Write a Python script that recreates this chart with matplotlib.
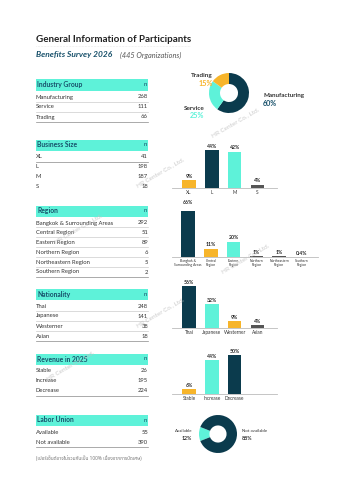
import matplotlib
matplotlib.use("Agg")
import matplotlib.pyplot as plt
from matplotlib.patches import Rectangle
from matplotlib.lines import Line2D

plt.rcParams['font.family'] = ['Lato', 'DejaVu Sans']

W, H = 339, 480
DARK = '#0b3b4d'
AQUA = '#5ef2d9'
ORANGE = '#f7b52b'
GRAY = '#555555'
TXT = '#333333'

# ---------------- data ----------------
industry_cats = ['Manufacturing', 'Service', 'Trading']
industry_n = [268, 111, 66]
industry_pct = [60, 25, 15]

size_cats = ['XL', 'L', 'M', 'S']
size_n = [41, 198, 187, 18]
size_pct = [9, 44, 42, 4]
size_labels = ['9%', '44%', '42%', '4%']

region_cats = ['Bangkok & Surrounding Areas', 'Central Region', 'Eastern Region',
               'Northern Region', 'Northeastern Region', 'Southern Region']
region_ticks = ['Bangkok &\nSurrounding Areas', 'Central\nRegion', 'Eastern\nRegion',
                'Northern\nRegion', 'Northeastern\nRegion', 'Southern\nRegion']
region_n = [292, 51, 89, 6, 5, 2]
region_pct = [66, 11, 20, 1, 1, 0.4]
region_labels = ['66%', '11%', '20%', '1%', '1%', '0.4%']

nat_cats = ['Thai', 'Japanese', 'Westerner', 'Asian']
nat_n = [248, 141, 38, 18]
nat_pct = [56, 32, 9, 4]
nat_labels = ['56%', '32%', '9%', '4%']

rev_cats = ['Stable', 'Increase', 'Decrease']
rev_n = [26, 195, 224]
rev_pct = [6, 44, 50]
rev_labels = ['6%', '44%', '50%']

union_cats = ['Available', 'Not available']
union_n = [55, 390]
union_pct = [12, 88]

fig = plt.figure(figsize=(W / 100, H / 100), dpi=100)
fig.patch.set_facecolor('white')


def fx(x):
    return x / W


def fy(y):
    return 1 - y / H


def text(x, y, s, **kw):
    kw.setdefault('va', 'center')
    fig.text(fx(x), fy(y), s, **kw)


def hline(x0, x1, y, color='#bbbbbb', lw=0.5, ls='-'):
    fig.add_artist(Line2D([fx(x0), fx(x1)], [fy(y), fy(y)], color=color, lw=lw, ls=ls,
                          transform=fig.transFigure))


# ---------------- title ----------------
text(36, 39, 'General Information of Participants', fontsize=7.1, fontweight='bold', color='#222222')
hline(36, 190, 46, color='#d5d5d5', lw=0.4, ls=':')
text(36, 55, 'Benefits Survey 2026', fontsize=6.0, fontweight='bold', style='italic', color='#17506a')
text(120, 55, '(445 Organizations)', fontsize=5.3, style='italic', color=GRAY)


# ---------------- tables ----------------
def table(title, cats, ns, y_head, row_h=10, underline='all'):
    fig.add_artist(Rectangle((fx(36), fy(y_head + 5.5)), fx(148) - fx(36), 11 / H,
                             transform=fig.transFigure, facecolor=AQUA, edgecolor='none'))
    text(37, y_head, title, fontsize=4.9, fontweight='bold', color='#17506a')
    text(147, y_head, 'n', fontsize=4.4, color='#17506a', ha='right')
    for i, (c, n) in enumerate(zip(cats, ns)):
        y = y_head + 12 + i * row_h
        text(36, y, c, fontsize=4.2, color=TXT)
        text(148, y, str(n), fontsize=4.2, color=TXT, ha='right')
        last = i == len(cats) - 1
        if underline == 'all' or (underline == 'last' and last) or (underline == 'first' and i == 0):
            hline(36, 148, y + 4.5, color='#888888' if last or underline == 'first' else '#cccccc', lw=0.5)


table('Industry Group', industry_cats, industry_n, 85)
table('Business Size', size_cats, size_n, 145, underline='first')
table('Region', region_cats, region_n, 211, row_h=9.8)
table('Nationality', nat_cats, nat_n, 294)
table('Revenue in 2025', rev_cats, rev_n, 359, underline='last')
table('Labor Union', union_cats, union_n, 420, underline='last')


# ---------------- donuts ----------------
def donut(cx, cy, r, vals, colors, start, counterclock):
    ax = fig.add_axes([fx(cx - r), fy(cy + r), 2 * r / W, 2 * r / H])
    ax.pie(vals, colors=colors, startangle=start, counterclock=counterclock, radius=1,
           wedgeprops=dict(width=0.55, edgecolor='none'))
    ax.set_xlim(-1, 1)
    ax.set_ylim(-1, 1)
    ax.set_aspect('auto')
    ax.axis('off')


donut(229, 93, 20, industry_pct, [DARK, AQUA, ORANGE], 90, False)
text(213, 76, 'Trading', fontsize=4.6, fontweight='bold', color='#333333', ha='right')
text(213, 84, f'{industry_pct[2]}%', fontsize=5.2, fontweight='bold', color=ORANGE, ha='right')
text(205, 108, 'Service', fontsize=4.6, fontweight='bold', color='#333333', ha='right')
text(204, 116, f'{industry_pct[1]}%', fontsize=5.2, fontweight='bold', color=AQUA, ha='right')
text(263, 96, 'Manufacturing', fontsize=4.5, fontweight='bold', color='#333333')
text(263, 104, f'{industry_pct[0]}%', fontsize=5.2, fontweight='bold', color='#17506a')

donut(218, 434, 19, union_pct, [AQUA, DARK], 180 - union_pct[0] * 3.6 / 2, True)
text(192, 431, 'Available', fontsize=3.2, color='#333333', ha='right')
text(192, 438, f'{union_pct[0]}%', fontsize=3.8, fontweight='bold', color='#333333', ha='right')
text(242, 431, 'Not available', fontsize=3.2, color='#333333')
text(242, 438, f'{union_pct[1]}%', fontsize=3.8, fontweight='bold', color='#333333')


# ---------------- bars ----------------
def bars(cats, pcts, labels, colors, base_y, x_first, x_right, px_per, tick_fs=3.4, tick_pad=1.5):
    x_left = 172
    sp = 22.8
    top = 60
    h = top * px_per
    ax = fig.add_axes([fx(x_left), fy(base_y), (x_right - x_left) / W, h / H])
    xs = list(range(len(cats)))
    ax.bar(xs, pcts, width=0.6, color=colors)
    for x, p, l in zip(xs, pcts, labels):
        ax.text(x, p + 1.5, l, ha='center', va='bottom', fontsize=3.7, fontweight='bold', color='#222222')
    ax.set_xlim(-(x_first - x_left) / sp, (x_right - x_first) / sp)
    ax.set_ylim(0, top)
    for s in ['top', 'right', 'left']:
        ax.spines[s].set_visible(False)
    ax.spines['bottom'].set_color('#bbbbbb')
    ax.spines['bottom'].set_linewidth(0.6)
    ax.set_yticks([])
    ax.set_xticks(xs)
    ax.set_xticklabels(cats, fontsize=tick_fs, color='#333333', linespacing=1.1)
    ax.tick_params(axis='x', length=0, pad=tick_pad)
    ax.patch.set_alpha(0)
    return ax


bars(size_cats, size_pct, size_labels, [ORANGE, DARK, AQUA, GRAY], 188, 189, 277, 0.864)
bars(region_ticks, region_pct, region_labels, [DARK, ORANGE, AQUA, GRAY, GRAY, GRAY], 257, 188, 318, 0.77,
     tick_fs=2.4)
bars(nat_cats, nat_pct, nat_labels, [DARK, AQUA, ORANGE, GRAY], 328, 189, 277, 0.75)
bars(rev_cats, rev_pct, rev_labels, [ORANGE, AQUA, DARK], 394, 189, 277, 0.78)

# ---------------- footnote ----------------
text(36, 458, '(เปอร์เซ็นต์อาจไม่รวมกันเป็น 100% เนื่องจากการปัดเศษ)', fontsize=3.4, style='italic',
     color='#777777', family=['Noto Sans Thai', 'Noto Sans', 'DejaVu Sans'])

# ---------------- watermarks ----------------
wm = [(235, 122), (160, 172), (78, 228), (245, 258), (160, 312), (70, 365)]
for x, y in wm:
    text(x, y, 'HR Center Co., Ltd.', fontsize=4.6, color='#c4c4c4', rotation=30, ha='center', alpha=0.9)

fig.savefig('out.png', dpi=100, facecolor='white')
